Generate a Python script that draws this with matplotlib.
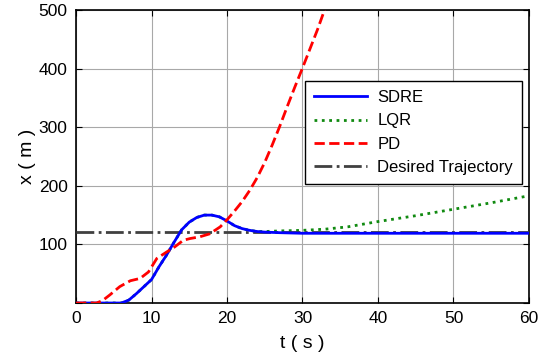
import numpy as np
import matplotlib.pyplot as plt

plt.rcParams['font.family'] = ['Liberation Sans', 'DejaVu Sans']

# SDRE response
t_sdre = [0, 6, 7, 8, 9, 10, 11, 12, 13, 14, 15, 16, 17, 18, 19, 20, 21, 22, 23, 24, 25, 27, 30, 60]
x_sdre = [0, 0, 5, 16, 28, 40, 62, 82, 104, 125, 138, 146, 150, 150, 147, 140, 132, 127, 124, 122, 121, 120, 119, 119]

# LQR response (same as SDRE early, then drifts up)
t_lqr = [0, 6, 7, 8, 9, 10, 11, 12, 13, 14, 15, 16, 17, 18, 19, 20, 21, 22, 23, 24, 25,
         27, 30, 33, 36, 40, 45, 50, 55, 60]
x_lqr = [0, 0, 5, 16, 28, 40, 62, 82, 104, 125, 138, 146, 150, 150, 147, 140, 132, 127, 124, 122, 122,
         123, 124, 126, 130, 139, 149, 160, 171, 183]

# PD response
t_pd = [0, 2.7, 3.5, 4.5, 5.8, 7.2, 8.5, 9.6, 10.7, 12, 13.1, 14.2, 15.1, 16.4, 17.7, 19.1, 20,
        21, 22, 23, 24, 25, 26, 27, 28, 29, 30, 31, 32, 33]
x_pd = [0, 0, 4, 14, 28, 38, 42, 53, 76, 87, 96, 107, 110, 113, 118, 130, 142,
        157, 173, 192, 214, 240, 270, 302, 336, 369, 401, 434, 467, 503]

# desired trajectory
t_des = [0, 60]
x_des = [122, 122]

fig = plt.figure(figsize=(5.48, 3.6), dpi=100)
ax = fig.add_axes([0.1387, 0.1583, 0.8266, 0.8139])

ax.plot(t_lqr, x_lqr, color='#108a10', linestyle=':', linewidth=2, label='LQR', zorder=2)
ax.plot(t_des, x_des, color='#404040', linestyle='-.', linewidth=2, label='Desired Trajectory', zorder=3)
ax.plot(t_sdre, x_sdre, color='#0000ff', linestyle='-', linewidth=2, label='SDRE', zorder=4)
ax.plot(t_pd, x_pd, color='#ff0000', linestyle='--', linewidth=2, label='PD', zorder=5)

ax.set_xlim(0, 60)
ax.set_ylim(0, 500)
ax.set_xticks(np.arange(0, 61, 10))
ax.set_yticks([0, 100, 200, 300, 400, 500])
ax.set_yticklabels(['', '100', '200', '300', '400', '500'])
ax.tick_params(direction='in', top=True, right=True, labelsize=12.5, length=4, pad=6)
ax.grid(True, color='#a8a8a8', linestyle='-', linewidth=0.8)
for s in ax.spines.values():
    s.set_linewidth(1.2)

ax.set_xlabel('t ( s )', fontsize=14, labelpad=6)
ax.set_ylabel('x ( m )', fontsize=14, labelpad=2)

h, l = ax.get_legend_handles_labels()
order = [2, 0, 3, 1]
leg = ax.legend([h[i] for i in order], [l[i] for i in order], loc='upper right',
                bbox_to_anchor=(0.985, 0.758), borderaxespad=0, fontsize=12, handlelength=3.2,
                fancybox=False, framealpha=1, edgecolor='black', borderpad=0.55,
                labelspacing=0.5, handletextpad=0.6)
leg.get_frame().set_linewidth(1.0)

fig.savefig('out.png', dpi=100)
